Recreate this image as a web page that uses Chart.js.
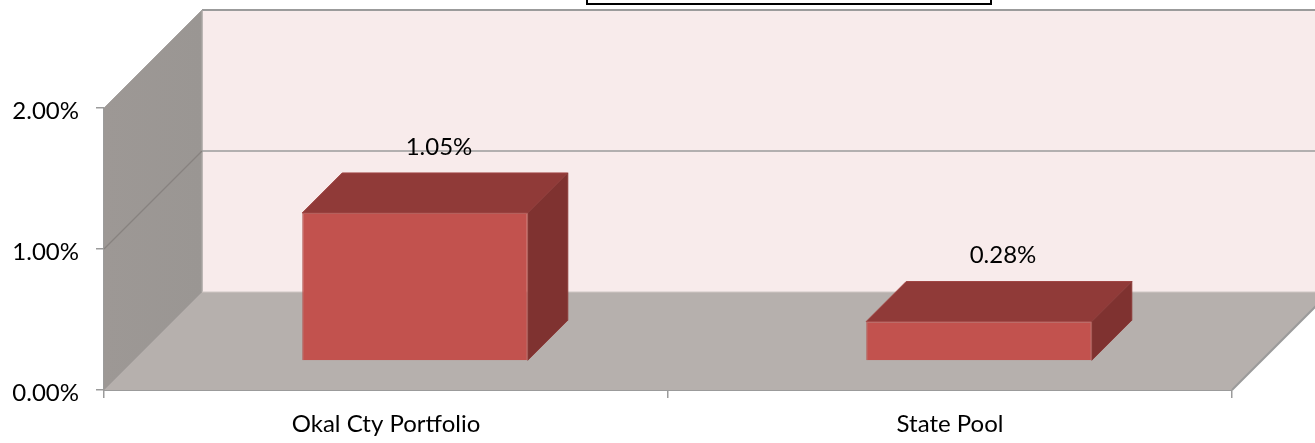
<!DOCTYPE html>
<html>
<head>
<meta charset="utf-8">
<style>
html,body{margin:0;padding:0;background:#fff;overflow:hidden}
#wrap{position:relative;width:1315px;height:443px}
canvas{display:block}
</style>
<script src="https://cdn.jsdelivr.net/npm/chart.js@4"></script>
</head>
<body>
<div id="wrap"><canvas id="c" width="1315" height="443"></canvas></div>
<script>
const categories = ["Okal Cty Portfolio", "State Pool"];
const seriesValues = [1.05, 0.28];
const valueLabels = ["1.05%", "0.28%"];
const yMin = 0, yMax = 2, yStep = 1;

const FONT = "Lato, Carlito, Calibri, sans-serif";
const FONT_SIZE = 24;
const DEPTH = 98, BAR_SHIFT = 29, BAR_DEPTH = 40;

function poly(ctx, pts, fill, stroke, lw) {
  ctx.beginPath();
  pts.forEach((p, i) => i ? ctx.lineTo(p[0], p[1]) : ctx.moveTo(p[0], p[1]));
  ctx.closePath();
  if (fill) { ctx.fillStyle = fill; ctx.fill(); }
  if (stroke) { ctx.strokeStyle = stroke; ctx.lineWidth = lw || 1; ctx.stroke(); }
}
function seg(ctx, x1, y1, x2, y2, c, lw) {
  ctx.beginPath(); ctx.moveTo(x1, y1); ctx.lineTo(x2, y2);
  ctx.strokeStyle = c; ctx.lineWidth = lw; ctx.stroke();
}

const walls = {
  id: "walls",
  beforeDatasetsDraw(chart) {
    const { ctx, chartArea: a, scales: { y } } = chart;
    const L = a.left, R = a.right, T = a.top, B = a.bottom, D = DEPTH;
    ctx.save();
    poly(ctx, [[L + D, T - D], [R + D, T - D], [R + D, B - D], [L + D, B - D]], "#f8ebeb");
    const gl = ctx.createLinearGradient(L, 0, L + D, 0);
    gl.addColorStop(0, "#9d9895"); gl.addColorStop(1, "#9a9693");
    poly(ctx, [[L, T], [L + D, T - D], [L + D, B - D], [L, B]], gl);
    poly(ctx, [[L, B], [R, B], [R + D, B - D], [L + D, B - D]], "#b6b0ad");
    const c = "#9b9b9b";
    seg(ctx, L + D, T - D, chart.width + 5, T - D, c, 2);
    seg(ctx, L + D, T - D, L + D, B - D, "#a8a4a2", 1.5);
    seg(ctx, L + D, B - D, chart.width + 5, B - D, "#cfc6c4", 1);
    seg(ctx, L, T, L + D, T - D, "#a8a4a2", 1);
    seg(ctx, L, B, L + D, B - D, "#a5a09e", 1);
    seg(ctx, R, B, R + D, B - D, c, 2);
    y.ticks.forEach(t => {
      if (t.value === yMin || t.value === yMax) return;
      const py = y.getPixelForValue(t.value);
      seg(ctx, L, py, L + D, py - D, "#87827f", 1.2);
      seg(ctx, L + D, py - D, chart.width + 5, py - D, c, 1.6);
    });
    ctx.restore();
    const meta = chart.getDatasetMeta(0);
    ctx.save();
    ctx.translate(BAR_SHIFT, -BAR_SHIFT);
    meta.data.forEach(b => {
      const l = b.x - b.width / 2, r = b.x + b.width / 2, t = b.y, bt = b.base, d = BAR_DEPTH;
      poly(ctx, [[l, t], [r, t], [r + d, t - d], [l + d, t - d]], "#903a38", "#a04644", 1);
      poly(ctx, [[r, t], [r + d, t - d], [r + d, bt - d], [r, bt]], "#7f3230", "#8c3c3a", 1);
    });
  },
  afterDatasetsDraw(chart) {
    const { ctx } = chart;
    ctx.restore();
    const meta = chart.getDatasetMeta(0);
    ctx.save();
    ctx.font = FONT_SIZE + "px " + FONT;
    ctx.fillStyle = "#000";
    ctx.textAlign = "center";
    ctx.textBaseline = "middle";
    meta.data.forEach((b, i) => {
      ctx.fillText(valueLabels[i], b.x + 53, b.y - 95);
    });
    ctx.restore();
  }
};

new Chart(document.getElementById("c"), {
  type: "bar",
  data: {
    labels: categories,
    datasets: [{
      data: seriesValues,
      backgroundColor: "#c2524e",
      borderColor: "#b5605c",
      borderWidth: 1,
      categoryPercentage: 0.4,
      barPercentage: 1,
      clip: false
    }]
  },
  options: {
    responsive: false,
    animation: false,
    layout: { padding: { left: 0, right: 83, top: 108, bottom: 0 } },
    plugins: { legend: { display: false }, tooltip: { enabled: false }, title: { display: false } },
    scales: {
      x: {
        afterFit(s) { s.height = 53; },
        grid: { drawOnChartArea: false, drawTicks: true, tickLength: 8, color: "#9b9b9b", lineWidth: 1.5, offset: true },
        border: { display: true, color: "#9b9b9b", width: 2 },
        ticks: { color: "#000", font: { family: FONT, size: FONT_SIZE }, padding: 12, maxRotation: 0 }
      },
      y: {
        min: yMin, max: yMax,
        afterFit(s) { s.width = 104; },
        grid: { drawOnChartArea: false, drawTicks: true, tickLength: 8, color: "#9b9b9b", lineWidth: 1.5 },
        border: { display: true, color: "#9b9b9b", width: 2 },
        ticks: { stepSize: yStep, color: "#000", font: { family: FONT, size: FONT_SIZE, lineHeight: 0.25 }, padding: 17,
          callback: v => ["", v.toFixed(2) + "%"] }
      }
    }
  },
  plugins: [walls, {
    id: "titleBox",
    afterDraw(chart) {
      const ctx = chart.ctx, a = chart.chartArea;
      const cx = (a.left + a.right) / 2 + 121;
      ctx.save();
      ctx.fillStyle = "#fff"; ctx.strokeStyle = "#000"; ctx.lineWidth = 2;
      ctx.beginPath(); ctx.rect(cx - 202, -8, 404, 12); ctx.fill(); ctx.stroke();
      ctx.restore();
    }
  }]
});
</script>
</body>
</html>
